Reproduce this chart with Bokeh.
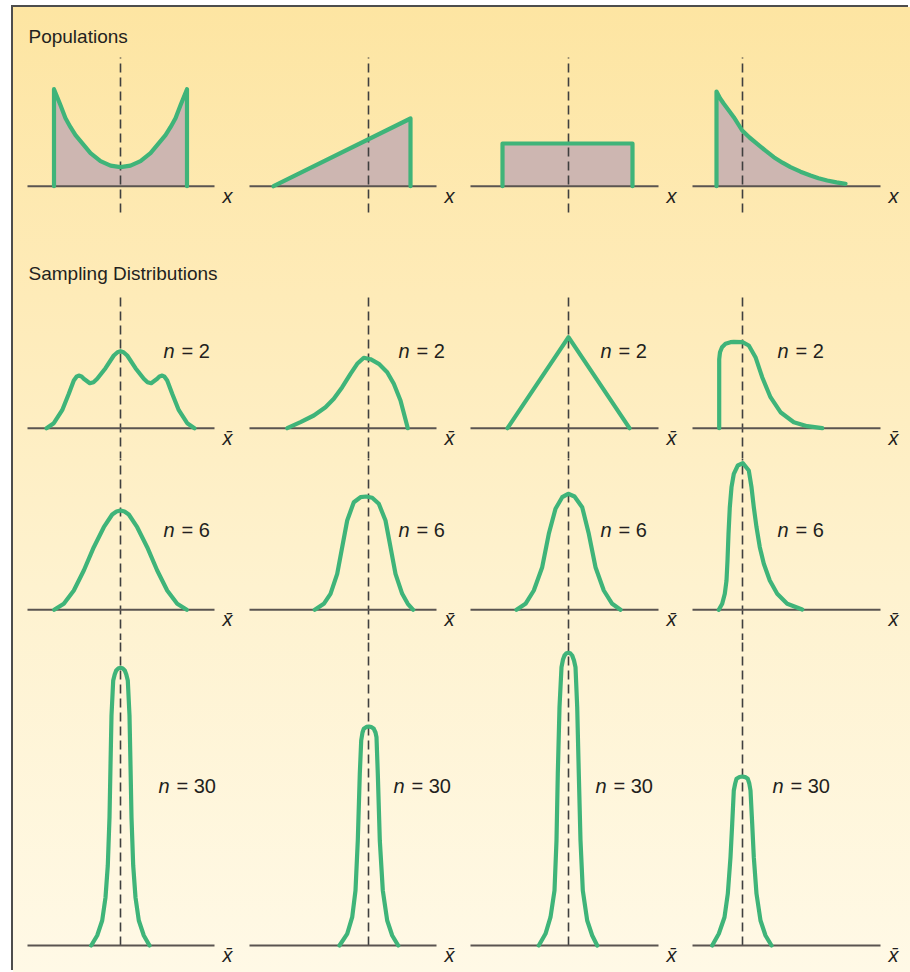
from bokeh.plotting import figure
from bokeh.models import Range1d, Label
from bokeh.layouts import column, row
from bokeh.core.properties import value
from bokeh.embed import file_html
from bokeh.resources import INLINE

# ------------------------------------------------------------------
# Data (x measured from the mean line, y = height above the axis)
# ------------------------------------------------------------------
# Populations
pop_u_x = [-66.5, -66.5, -60, -55, -50, -45, -40, -30, -20, -10, 0, 10, 20, 30, 40, 45, 50, 55, 60, 66.5, 66.5]
pop_u_y = [0, 97, 81, 68, 59, 51, 45, 33, 25, 20.5, 19, 20.5, 25, 33, 45, 51, 59, 68, 81, 97, 0]

pop_tri_x = [-95, 42, 42]
pop_tri_y = [0, 67.7, 0]

pop_rect_x = [-66, -66, 64, 64]
pop_rect_y = [0, 42.7, 42.7, 0]

pop_exp_x = [-26, -26, -22.5, -18.7, -13.5, -8.7, -0.3, 7, 14.7, 23, 31.3, 40, 48, 58, 68, 76, 84.7, 94, 103]
pop_exp_y = [0, 94.7, 88, 82.4, 75.5, 69, 55.7, 48.7, 42.4, 35.5, 29, 23.5, 19, 14.5, 10.7, 8, 5.7, 3.8, 2.4]

# Sampling distributions, n = 2
s2_a_x = [-74, -66.7, -58.3, -51.7, -46.7, -44, -41.7, -39, -36.7, -30.7, -27, -23.3, -15, -6.7, -3, 0,
          3, 6.7, 15, 23.3, 27, 30.7, 36.7, 39, 41.7, 44, 46.7, 51.7, 58.3, 66.7, 74]
s2_a_y = [0, 5, 18, 34.4, 47.7, 51.5, 52.7, 51.8, 49.4, 45, 46, 49.4, 60, 72.7, 76, 77,
          76, 72.7, 60, 49.4, 46, 45, 49.4, 51.8, 52.7, 51.5, 47.7, 34.4, 18, 5, 0]

s2_b_x = [-81.3, -68, -54.7, -43, -34.7, -26.3, -18, -11.3, -4.7, 2, 10.3, 18.7, 25.3, 32, 39.3]
s2_b_y = [0, 6, 12.7, 21, 29.4, 41, 54.4, 64.4, 70.4, 69, 64.4, 56, 44.4, 27.7, 0]

s2_c_x = [-61, 0, 61]
s2_c_y = [0, 91, 0]

s2_d_x = [-23.3, -23.3, -22.5, -20.5, -17, -12, -8.7, 0, 6.3, 13, 19.7, 28, 38, 51.3, 64.7, 79.7]
s2_d_y = [0, 69, 76, 81, 84.5, 86, 86.3, 86, 82.7, 71, 51, 31, 16, 6, 2, 0]

# n = 6
s6_a_x = [-66.3, -56.7, -46.7, -36.7, -26.7, -16.7, -8.3, -4, 0, 4, 8.3, 16.7, 26.7, 36.7, 46.7, 56.7, 66.3]
s6_a_y = [0, 6, 19.3, 39.3, 62.6, 82.6, 95.3, 98.3, 99.3, 98.3, 95.3, 82.6, 62.6, 39.3, 19.3, 6, 0]

s6_b_x = [-53.7, -44.7, -38, -31.3, -26.3, -21.3, -14.7, -8, -2.3, 3.7, 10.3, 17, 22, 27, 33.7, 39.3, 44.7]
s6_b_y = [0, 6, 16, 36, 62.6, 89.3, 107.6, 112.6, 113.3, 112, 106, 89.3, 62.6, 36, 16, 6, 0]

s6_c_x = [-52, -43, -34.7, -26.3, -19.7, -13, -6.3, -0.3, 6, 13.7, 20.3, 27, 35.3, 43.7, 52]
s6_c_y = [0, 6, 19.3, 42.6, 76, 101, 112.6, 116, 113.3, 102.6, 76, 42.6, 19.3, 6, 0]

s6_d_x = [-23.7, -20.3, -17.7, -16, -15, -14, -12.7, -11, -8.7, -4.7, 0.3,
          6.3, 9, 11.3, 14, 17.3, 21.3, 27.3, 34.7, 44.7, 59.7]
s6_d_y = [0, 6, 16, 29.3, 49.3, 76, 102.6, 122.6, 136, 144.3, 146.6,
          139.3, 122.6, 102.6, 82.6, 62.6, 46, 29.3, 16, 6, 0.3]

# n = 30
s30_a_x = [-29.3, -23.3, -18.3, -15, -12.7, -11, -10, -9, -7.3, -5.8, -4.3, -2, 0,
           2, 4.3, 5.8, 7.3, 9, 10, 11, 12.7, 15, 18.3, 23.3, 29]
s30_a_y = [0, 10, 25, 48, 80, 128, 180, 230, 265, 271, 275, 277.3, 277.7,
           277.3, 275, 271, 265, 230, 180, 128, 80, 48, 25, 10, 0]

s30_b_x = [-29, -21.3, -16.3, -13, -10.7, -8.7, -7.3, -6, -4.7, -2, 0.3, 3, 5.3, 7, 8, 9.3, 11.3, 14.3, 18.7, 23.7, 29.7]
s30_b_y = [0, 11.7, 28.3, 55, 105, 171.7, 205, 213, 216.7, 218.6, 219, 218.4, 216.7, 213, 208.3, 171.7, 105, 55, 25, 10, 0]

s30_c_x = [-29.7, -23, -18, -14, -12, -10.7, -9, -7, -5.5, -4, -2, -0.3, 1.8, 3.7, 5.5, 7, 8.7, 10.3, 12, 14.3, 18.7, 23.7, 28.7]
s30_c_y = [0, 11.7, 28.3, 55, 105, 171.7, 238.3, 278.3, 286, 290, 292.3, 292.7, 292.2, 290, 285, 278.3, 238.3, 171.7, 105, 55, 25, 10, 0]

s30_d_x = [-30.3, -23.7, -18, -14.7, -12, -10.3, -8.7, -7.3, -6, -3, -0.3, 2.7, 5.3, 6.8, 8, 9.7, 11.3, 14, 18, 23, 29]
s30_d_y = [0, 11.7, 28.3, 51.7, 88.3, 121.7, 155, 162, 166.7, 168.5, 169, 168.4, 166.7, 162, 155, 121.7, 88.3, 51.7, 25, 10, 0]

sample_sizes = [2, 6, 30]
headings = ["Populations", "Sampling Distributions"]

curves = [
    [(pop_u_x, pop_u_y), (pop_tri_x, pop_tri_y), (pop_rect_x, pop_rect_y), (pop_exp_x, pop_exp_y)],
    [(s2_a_x, s2_a_y), (s2_b_x, s2_b_y), (s2_c_x, s2_c_y), (s2_d_x, s2_d_y)],
    [(s6_a_x, s6_a_y), (s6_b_x, s6_b_y), (s6_c_x, s6_c_y), (s6_d_x, s6_d_y)],
    [(s30_a_x, s30_a_y), (s30_b_x, s30_b_y), (s30_c_x, s30_c_y), (s30_d_x, s30_d_y)],
]

# ------------------------------------------------------------------
# Layout (page pixels) and styling
# ------------------------------------------------------------------
ORIGIN_X, ORIGIN_Y = 13, 7
COL_W = [222, 222, 222, 231]
MEAN_PX = [120, 368, 568, 742]
ROW_H = [238, 213, 182, 332]
AXIS_PX = [185.7, 427.7, 609.3, 945]
AXIS_EXT = [(-93, 94), (-119, 68), (-98, 90), (-50, 138)]
LABEL_X = [[43, 30, 32, 35], [43, 30, 32, 35], [38, 25, 27, 30]]
LABEL_H = [77.7, 80.3, 160]
DASH_POP = (-26.3, 128.7)
DASH_TOP_SAMPLING = 130.7
HEAD_X = -92
HEAD_BASE_PX = [36, 273]

GREEN = "#3FB479"
FILL = "#CDB6B1"
AXIS_C = "#5A5450"
DASH_C = "#3F3F3F"
TEXT_C = "#231F20"
BORDER_C = "#4D4D4D"

col_left = [ORIGIN_X]
for w in COL_W[:-1]:
    col_left.append(col_left[-1] + w)
row_top = [ORIGIN_Y]
for h in ROW_H[:-1]:
    row_top.append(row_top[-1] + h)

rows = []
for r in range(4):
    figs = []
    for c in range(4):
        x0 = col_left[c] - MEAN_PX[c]
        xr = Range1d(x0, x0 + COL_W[c])
        yr = Range1d(AXIS_PX[r] - (row_top[r] + ROW_H[r]), AXIS_PX[r] - row_top[r])
        p = figure(width=COL_W[c], height=ROW_H[r], x_range=xr, y_range=yr,
                   x_axis_type=None, y_axis_type=None, toolbar_location=None,
                   output_backend="svg", min_border=0,
                   background_fill_color=None, border_fill_color=None,
                   outline_line_color=None)
        xs, ys = curves[r][c]

        # population fill
        if r == 0:
            fx = list(xs) + ([xs[-1]] if ys[-1] != 0 else [])
            fy = list(ys) + ([0] if ys[-1] != 0 else [])
            p.patch(fx, fy, fill_color=FILL, line_color=None)

        # mean line (dashed)
        if r == 0:
            d0, d1 = DASH_POP
        elif r == 1:
            d0, d1 = yr.start - 2, DASH_TOP_SAMPLING
        elif r == 2:
            d0, d1 = yr.start - 2, yr.end + 2
        else:
            d0, d1 = 0, yr.end + 2
        p.segment(x0=[0], y0=[d0], x1=[0], y1=[d1], line_color=DASH_C,
                  line_width=1.6, line_dash="9 5")

        # horizontal axis
        a0, a1 = AXIS_EXT[c]
        p.segment(x0=[a0], y0=[0], x1=[a1], y1=[0], line_color=AXIS_C, line_width=2)

        # curve
        p.line(xs, ys, line_color=GREEN, line_width=4.2, line_join="round", line_cap="round")

        # axis label
        p.text(x=[a1 + 13], y=[-9.5], text=["x" if r == 0 else "x\u0304"],
               text_font=value("Liberation Sans"), text_font_size="20px",
               text_font_style="italic", text_align="center",
               text_baseline="alphabetic", text_color=TEXT_C)

        # n = k labels
        if r > 0:
            lx = LABEL_X[r - 1][c]
            ly = LABEL_H[r - 1]
            p.text(x=[lx], y=[ly], text=["n"], text_font=value("Liberation Sans"),
                   text_font_size="20px", text_font_style="italic",
                   text_align="left", text_baseline="middle", text_color=TEXT_C)
            p.text(x=[lx], y=[ly], text=["= %d" % sample_sizes[r - 1]],
                   text_font=value("Liberation Sans"), text_font_size="20px",
                   text_align="left", text_baseline="middle", text_color=TEXT_C,
                   x_offset=18)

        # headings
        if c == 0 and r < 2:
            p.add_layout(Label(x=HEAD_X, y=AXIS_PX[r] - HEAD_BASE_PX[r], text=headings[r],
                               text_font="Liberation Sans",
                               text_font_size="19px", text_color=TEXT_C,
                               text_baseline="alphabetic"))
        figs.append(p)
    rows.append(row(*figs, spacing=0))

layout = column(*rows, spacing=0, margin=(ORIGIN_Y, 0, 0, ORIGIN_X),
                styles={"background": "linear-gradient(180deg, #FDE5A2 0%, #FEEBB8 30%, #FEF2CF 60%, #FFF9E6 100%)",
                        "box-shadow": "-2px -2px 0 0 " + BORDER_C})

open("out.html", "w").write(file_html(layout, INLINE))
